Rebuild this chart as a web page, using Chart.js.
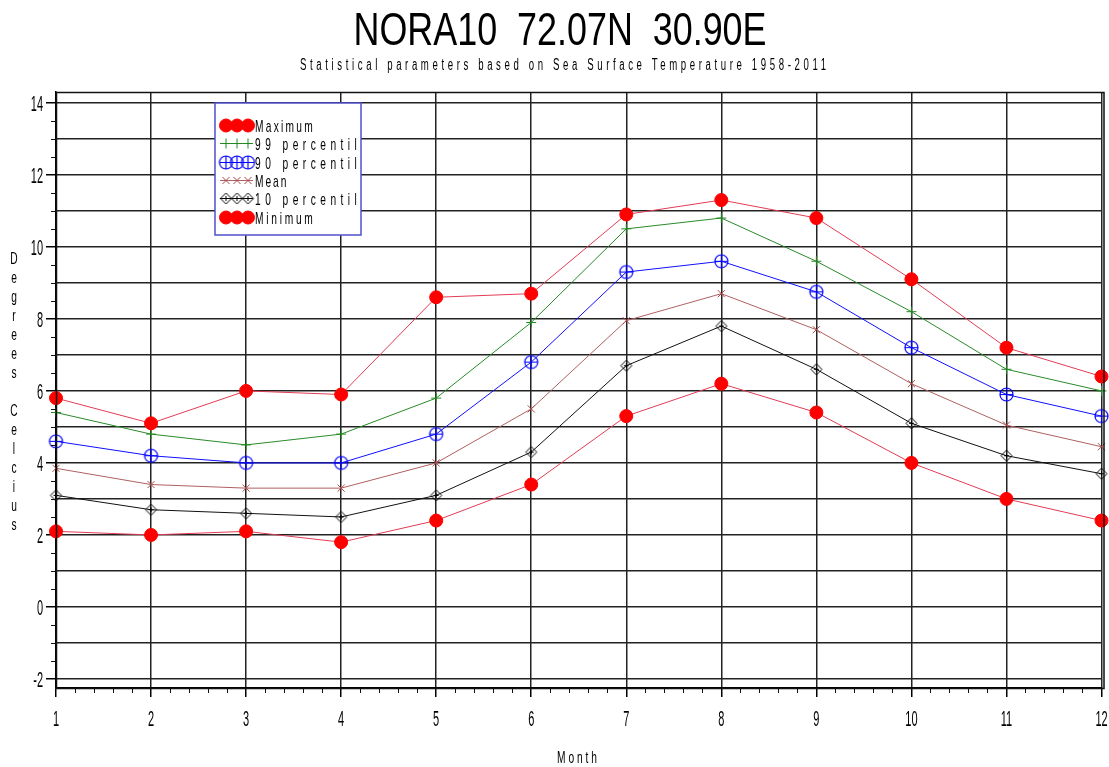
<!DOCTYPE html>
<html>
<head>
<meta charset="utf-8">
<script src="https://cdn.jsdelivr.net/npm/chart.js@4.4.1/dist/chart.umd.min.js"></script>
<style>
  html, body { margin: 0; padding: 0; background: #fff; }
  #wrap { width: 1109px; height: 767px; }
</style>
</head>
<body>
<div id="wrap"><canvas id="chart" width="1109" height="767"></canvas></div>
<script>
const months = [1, 2, 3, 4, 5, 6, 7, 8, 9, 10, 11, 12]
const maximum = [5.8, 5.1, 6.0, 5.9, 8.6, 8.7, 10.9, 11.3, 10.8, 9.1, 7.2, 6.4]
const p99 = [5.4, 4.8, 4.5, 4.8, 5.8, 7.9, 10.5, 10.8, 9.6, 8.2, 6.6, 6.0]
const p90 = [4.6, 4.2, 4.0, 4.0, 4.8, 6.8, 9.3, 9.6, 8.75, 7.2, 5.9, 5.3]
const mean = [3.85, 3.4, 3.3, 3.3, 4.0, 5.5, 7.95, 8.7, 7.7, 6.2, 5.05, 4.45]
const p10 = [3.1, 2.7, 2.6, 2.5, 3.1, 4.3, 6.7, 7.8, 6.6, 5.1, 4.2, 3.7]
const minimum = [2.1, 2.0, 2.1, 1.8, 2.4, 3.4, 5.3, 6.2, 5.4, 4.0, 3.0, 2.4]
const yTicks = [-2, -1, 0, 1, 2, 3, 4, 5, 6, 7, 8, 9, 10, 11, 12, 13, 14]
const yLabels = [-2, 0, 2, 4, 6, 8, 10, 12, 14]

const titleText = 'NORA10  72.07N  30.90E'
const subtitleText = 'Statistical parameters based on Sea Surface Temperature 1958-2011'
const xTitle = 'Month'
const yTitle = 'Degrees Celcius'

const FONT = '"Liberation Sans", Arial, sans-serif'

// small canvases used as point markers
function marker(size, draw) {
	const c = document.createElement('canvas')
	c.width = c.height = size
	draw(c.getContext('2d'), size / 2)
	return c
}
const circlePlus = marker(17, (g, m) => {
	g.strokeStyle = '#0000ff'
	g.lineWidth = 1.2
	g.beginPath()
	g.arc(m, m, 6.5, 0, Math.PI * 2)
	g.moveTo(m - 6.5, m); g.lineTo(m + 6.5, m)
	g.moveTo(m, m - 6.5); g.lineTo(m, m + 6.5)
	g.stroke()
})
const diamondPlus = marker(15, (g, m) => {
	g.strokeStyle = '#000'
	g.lineWidth = 1
	g.beginPath()
	g.moveTo(m, m - 5.5); g.lineTo(m + 5.5, m); g.lineTo(m, m + 5.5); g.lineTo(m - 5.5, m); g.closePath()
	g.moveTo(m - 2.5, m); g.lineTo(m + 2.5, m)
	g.moveTo(m, m - 2.5); g.lineTo(m, m + 2.5)
	g.stroke()
})

const toPoints = (arr) => months.map((m, i) => ({ x: m, y: arr[i] }))

const series = [
	{ label: 'Maximum', data: maximum, line: '#e23c55', point: '#ff0000', style: 'circle', radius: 6.5, fill: true },
	{ label: '99 percentil', data: p99, line: '#2a8a2a', point: '#1f8a1f', style: 'cross', radius: 5 },
	{ label: '90 percentil', data: p90, line: '#1010ff', point: '#0000ff', style: circlePlus, radius: 6.5 },
	{ label: 'Mean', data: mean, line: '#b06060', point: '#b04848', style: 'crossRot', radius: 5 },
	{ label: '10 percentil', data: p10, line: '#111', point: '#000', style: diamondPlus, radius: 5.5 },
	{ label: 'Minimum', data: minimum, line: '#e23c55', point: '#ff0000', style: 'circle', radius: 6.5, fill: true },
]

// condensed, letter-spaced text like the plotter font
function drawText(ctx, text, x, y, o) {
	ctx.save()
	ctx.font = o.font
	ctx.fillStyle = '#000'
	ctx.textBaseline = 'alphabetic'
	ctx.textAlign = 'left'
	ctx.letterSpacing = '0px'
	const natural = ctx.measureText(text).width
	let sx = o.sx || 0.55
	let ls = 0
	if (o.width) {
		if (o.fit) sx = o.width / natural
		else ls = (o.width / sx - natural) / Math.max(1, text.length - 1)
	}
	const total = sx * (natural + ls * (text.length - 1))
	let start = x
	if (o.align === 'center') start = x - total / 2
	else if (o.align === 'right') start = x - total
	ctx.translate(start, y)
	ctx.scale(sx, 1)
	ctx.letterSpacing = ls + 'px'
	ctx.fillText(text, 0, 0)
	ctx.restore()
}

const decorations = {
	id: 'decorations',
	afterDraw(chart) {
		const { ctx, chartArea: a, scales } = chart
		const xs = scales.x
		const ys = scales.y

		// frame
		ctx.save()
		ctx.strokeStyle = '#111'
		ctx.lineWidth = 1.5
		ctx.strokeRect(a.left + 0.5, a.top + 0.5, a.right - a.left + 2, a.bottom - a.top)

		// minor ticks
		ctx.lineWidth = 1
		ctx.beginPath()
		for (let v = yTicks[0]; v <= yTicks[yTicks.length - 1]; v += 0.5) {
			if (yLabels.includes(v)) continue
			const py = Math.round(ys.getPixelForValue(v)) + 0.5
			ctx.moveTo(a.left - 5, py); ctx.lineTo(a.left, py)
		}
		for (let i = 0; i < months.length - 1; i++) {
			for (let k = 1; k < 5; k++) {
				const px = Math.round(xs.getPixelForValue(months[i] + k / 5)) + 0.5
				ctx.moveTo(px, a.bottom); ctx.lineTo(px, a.bottom + 5)
			}
		}
		ctx.stroke()
		ctx.restore()

		// tick labels
		const tickFont = '22px ' + FONT
		yLabels.forEach((v) => {
			drawText(ctx, String(v), a.left - 13, ys.getPixelForValue(v) + 8, { font: tickFont, sx: 0.5, align: 'right' })
		})
		months.forEach((m) => {
			drawText(ctx, String(m), xs.getPixelForValue(m), a.bottom + 38, { font: tickFont, sx: 0.5, align: 'center' })
		})

		// titles
		drawText(ctx, titleText, 560, 45, { font: '46px ' + FONT, width: 413, fit: true, align: 'center' })
		drawText(ctx, subtitleText, 563, 70, { font: '16px ' + FONT, width: 526, sx: 0.6, align: 'center' })
		drawText(ctx, xTitle, 577, 763, { font: '17px ' + FONT, width: 40, sx: 0.6, align: 'center' })
		let row = 0
		for (const ch of yTitle) {
			if (ch !== ' ') drawText(ctx, ch, 14, 264 + row * 19, { font: '17px ' + FONT, sx: 0.6, align: 'center' })
			row++
		}

		// legend box
		const lx = a.left + 159
		const ly = a.top + 11
		ctx.save()
		ctx.fillStyle = '#fff'
		ctx.fillRect(lx, ly, 146, 132)
		ctx.strokeStyle = '#5050cc'
		ctx.lineWidth = 1.5
		ctx.strokeRect(lx, ly, 146, 132)
		ctx.restore()
		chart.data.datasets.forEach((ds, i) => {
			const y = Math.round(ly + 22 + i * 18.3) + 0.5
			ctx.save()
			ctx.strokeStyle = ds.borderColor
			ctx.lineWidth = 1
			ctx.beginPath()
			ctx.moveTo(lx + 5, y); ctx.lineTo(lx + 38, y)
			ctx.stroke()
			ctx.fillStyle = ds.pointBackgroundColor
			ctx.strokeStyle = ds.pointBorderColor
			for (let k = 0; k < 3; k++) {
				Chart.helpers.drawPoint(ctx, { pointStyle: ds.pointStyle, radius: ds.pointRadius, rotation: 0, borderWidth: 1 }, lx + 11 + k * 11, y)
			}
			ctx.restore()
			drawText(ctx, ds.label, lx + 40, y + 6, { font: '17px ' + FONT, width: 8.8 * (ds.label.length - 1) + 5, sx: 0.6 })
		})
	},
}

const chart = new Chart(document.getElementById('chart').getContext('2d'), {
	type: 'line',
	data: {
		datasets: series.map((s) => ({
			label: s.label,
			data: toPoints(s.data),
			borderColor: s.line,
			borderWidth: 1,
			pointStyle: s.style,
			pointRadius: s.radius,
			pointBackgroundColor: s.fill ? s.point : 'rgba(0,0,0,0)',
			pointBorderColor: s.point,
			pointBorderWidth: 1,
			tension: 0,
			clip: false,
		})),
	},
	options: {
		responsive: false,
		animation: false,
		layout: { padding: { top: 92, right: 7, bottom: 0, left: 0 } },
		plugins: {
			legend: { display: false },
			title: { display: false },
			tooltip: { enabled: false },
		},
		scales: {
			x: {
				type: 'linear',
				min: 1,
				max: 12,
				afterBuildTicks: (axis) => { axis.ticks = months.map((v) => ({ value: v })) },
				afterFit: (axis) => { axis.height = 79 },
				grid: { color: '#222', lineWidth: 1.5, tickLength: 9, tickColor: '#000' },
				border: { display: true, color: '#000', width: 1.5 },
				ticks: { display: false },
			},
			y: {
				min: -2.25,
				max: 14.3,
				afterBuildTicks: (axis) => { axis.ticks = yTicks.map((v) => ({ value: v })) },
				afterFit: (axis) => { axis.width = 56 },
				grid: {
					color: '#222',
					lineWidth: 1.5,
					tickLength: 10,
					tickColor: (c) => (c.tick && yLabels.includes(c.tick.value) ? '#000' : 'rgba(0,0,0,0)'),
				},
				border: { display: true, color: '#000', width: 1.5 },
				ticks: { display: false },
			},
		},
	},
	plugins: [decorations],
})
</script>
</body>
</html>
